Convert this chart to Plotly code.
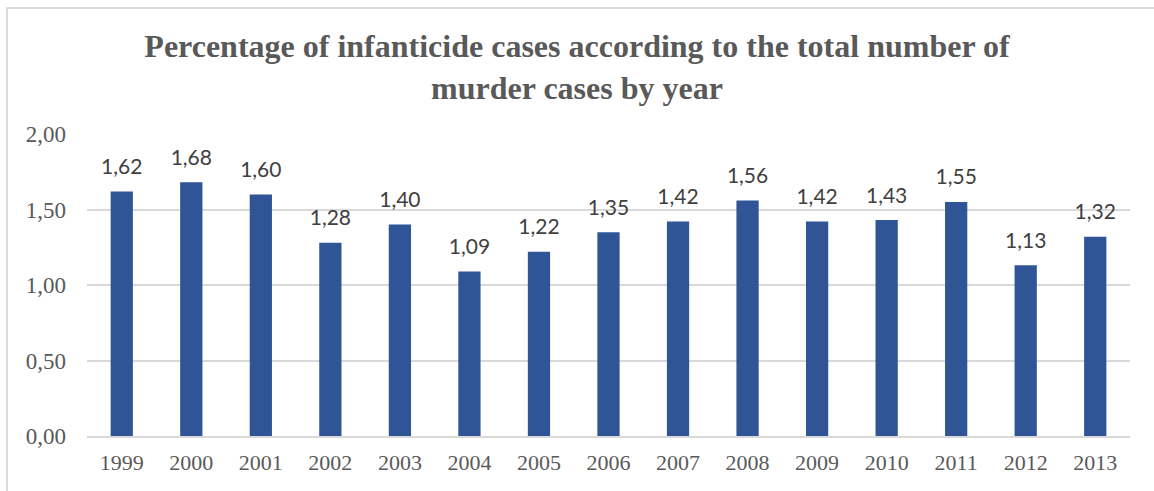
import plotly.graph_objects as go

years = ["1999", "2000", "2001", "2002", "2003", "2004", "2005", "2006",
         "2007", "2008", "2009", "2010", "2011", "2012", "2013"]
percentages = [1.62, 1.68, 1.60, 1.28, 1.40, 1.09, 1.22, 1.35,
               1.42, 1.56, 1.42, 1.43, 1.55, 1.13, 1.32]
y_ticks = [0.0, 0.5, 1.0, 1.5, 2.0]
y_tick_labels = [f"{t:.2f}".replace(".", ",") for t in y_ticks]
value_labels = [f"{v:.2f}".replace(".", ",") for v in percentages]

W, H = 1154, 491
ML, MR, MT, MB = 87, 24, 134, 55
pw, ph = W - ML - MR, H - MT - MB

fig = go.Figure()
fig.add_trace(go.Bar(
    x=years, y=percentages,
    marker=dict(color="#2F5597", line=dict(width=0)),
    hoverinfo="x+y",
))

# value labels floating above each bar (transparent marker pushes text up)
fig.add_trace(go.Scatter(
    x=years, y=percentages, text=value_labels,
    mode="markers+text", textposition="top center",
    marker=dict(size=18, color="rgba(0,0,0,0)"),
    textfont=dict(family="Lato, Open Sans, sans-serif", size=21, color="#404040"),
    hoverinfo="skip",
))

# outer chart border
fig.add_shape(
    type="rect", xref="paper", yref="paper",
    x0=(7 - ML) / pw, x1=(1165 - ML) / pw,
    y0=-(MB + 20) / ph, y1=(H - MB - 8) / ph,
    line=dict(color="#d0d0d0", width=1.5),
    layer="below",
)

fig.update_layout(
    width=W, height=H,
    margin=dict(l=ML, r=MR, t=MT, b=MB),
    paper_bgcolor="white", plot_bgcolor="white",
    bargap=0.68,
    showlegend=False,
    title=dict(
        text="<b>Percentage of infanticide cases according to the total number of<br>murder cases by year</b>",
        x=0.5, xanchor="center", y=0.884, yanchor="top",
        font=dict(family="Liberation Serif, Times New Roman, serif", size=32, color="#595959"),
    ),
    xaxis=dict(
        type="category", automargin=False, range=[-0.5, len(years) - 0.5],
        showgrid=False, showline=True, linecolor="#d9d9d9", linewidth=1.5,
        ticks="", tickfont=dict(family="Liberation Serif, serif", size=22, color="#595959"),
        ticklabelstandoff=6,
    ),
    yaxis=dict(
        range=[0, 2.0], tickvals=y_ticks, ticktext=y_tick_labels, automargin=False,
        showgrid=True, gridcolor="#d9d9d9", gridwidth=1.5,
        zeroline=False, showline=False, ticks="",
        tickfont=dict(family="Liberation Serif, serif", size=23, color="#595959"),
        ticklabelstandoff=20,
    ),
)

fig.write_html("out.html")
